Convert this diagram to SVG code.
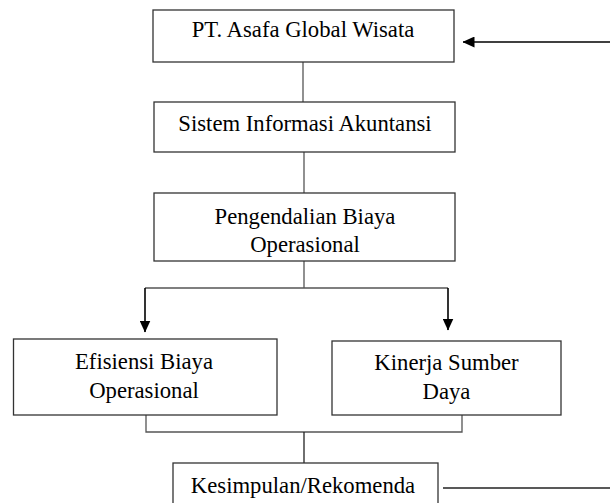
<svg xmlns="http://www.w3.org/2000/svg" width="610" height="503" viewBox="0 0 610 503">
<style>
.box{fill:#fff;stroke:#333;stroke-width:1.3}
.t{font-family:"Liberation Serif","Times New Roman",serif;font-size:22.7px;fill:#000;text-anchor:middle}
.ln{fill:none;stroke:#555;stroke-width:1.3}
.ar{fill:none;stroke:#000;stroke-width:1.6}
</style>
<defs>
<marker id="ah" markerWidth="12" markerHeight="11" refX="11.5" refY="5.5" orient="auto" markerUnits="userSpaceOnUse">
<path d="M0,0 L12,5.5 L0,11 Z" fill="#000"/>
</marker>
</defs>
<g id="connectors">
<line class="ar" x1="610" y1="42" x2="463" y2="42" marker-end="url(#ah)"/>
<line class="ln" x1="303" y1="62" x2="303" y2="102"/>
<line class="ln" x1="304" y1="152" x2="304" y2="193"/>
<line class="ln" x1="304" y1="261" x2="304" y2="288"/>
<polyline class="ln" points="145,288 448,288"/>
<line class="ar" x1="145" y1="288" x2="145" y2="332" marker-end="url(#ah)"/>
<line class="ar" x1="448" y1="288" x2="448" y2="330" marker-end="url(#ah)"/>
<polyline class="ln" points="146,415 146,432 462,432 462,415"/>
<line stroke="#222" stroke-width="1.3" x1="304" y1="432" x2="304" y2="463"/>
<line stroke="#222" stroke-width="1.3" x1="443" y1="488" x2="610" y2="488"/>
</g>
<g id="n1">
<rect class="box" x="153" y="10" width="301" height="52"/>
<text class="t" x="303" y="37">PT. Asafa Global Wisata</text>
</g>
<g id="n2">
<rect class="box" x="154" y="102" width="301" height="50"/>
<text class="t" x="305" y="131">Sistem Informasi Akuntansi</text>
</g>
<g id="n3">
<rect class="box" x="154" y="193" width="301" height="68"/>
<text class="t" x="305" y="224">Pengendalian Biaya</text>
<text class="t" x="305" y="252">Operasional</text>
</g>
<g id="n4">
<rect class="box" x="13.5" y="339" width="263.5" height="76"/>
<text class="t" x="144" y="369">Efisiensi Biaya</text>
<text class="t" x="144" y="398">Operasional</text>
</g>
<g id="n5">
<rect class="box" x="332" y="341" width="229" height="74"/>
<text class="t" x="446.5" y="370">Kinerja Sumber</text>
<text class="t" x="446.5" y="399">Daya</text>
</g>
<g id="n6">
<rect class="box" x="173" y="463" width="265" height="60"/>
<text class="t" x="303" y="493">Kesimpulan/Rekomenda</text>
</g>
</svg>
